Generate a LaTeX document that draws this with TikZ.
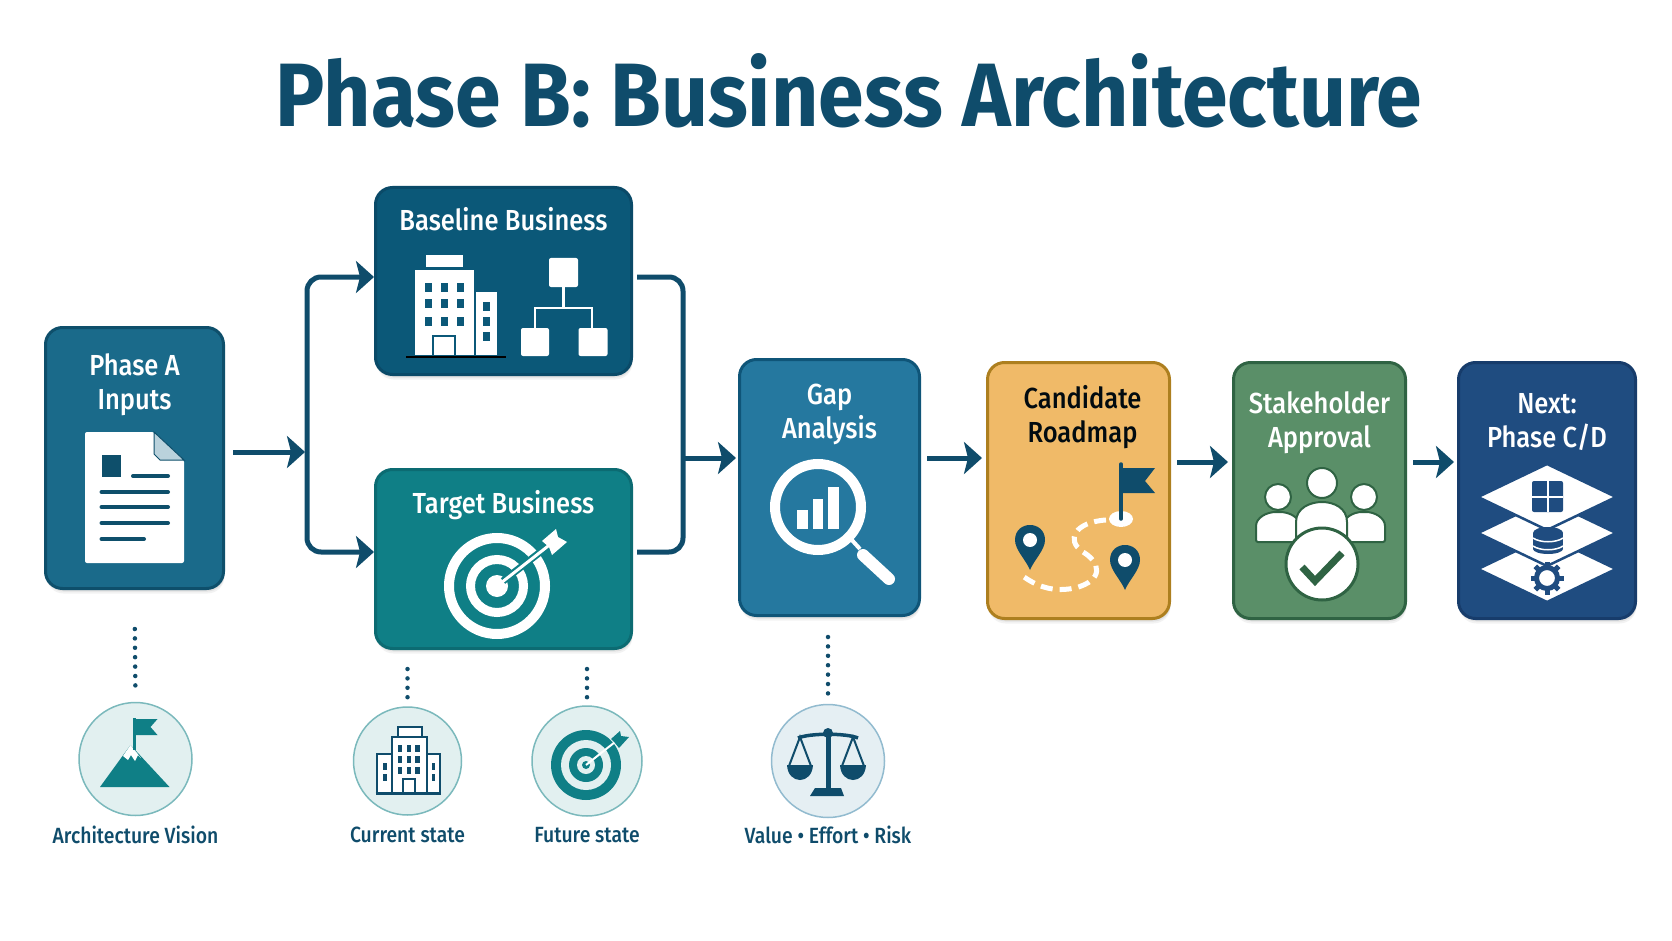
\documentclass[tikz,border=0pt]{standalone}
\usepackage{fontspec}
\setmainfont{Fira Sans}[FakeStretch=0.915]
\newfontfamily\boxfont{Fira Sans Medium}[FakeStretch=0.88]
\usetikzlibrary{arrows.meta,calc,positioning,shadows}
\definecolor{inkblue}{HTML}{0F4C6B}
\definecolor{phaseblue}{HTML}{1A6A8A}
\definecolor{phaseline}{HTML}{0E4F6B}
\definecolor{baseblue}{HTML}{0B5878}
\definecolor{baseline}{HTML}{0A4A68}
\definecolor{teal}{HTML}{0F7F86}
\definecolor{tealline}{HTML}{0C6B72}
\definecolor{gapblue}{HTML}{25789F}
\definecolor{gapline}{HTML}{0F5578}
\definecolor{amber}{HTML}{F0BA68}
\definecolor{amberline}{HTML}{AD7F1F}
\definecolor{moss}{HTML}{5A8F68}
\definecolor{mossline}{HTML}{2F6343}
\definecolor{nextblue}{HTML}{1F4C80}
\definecolor{nextline}{HTML}{173C6B}
\tikzstyle{stepbox}=[draw, line width=3pt, rounded corners=17pt, inner sep=0pt,
  drop shadow={shadow xshift=1pt, shadow yshift=-5pt, opacity=.10},
  drop shadow={shadow xshift=1pt, shadow yshift=-3pt, opacity=.15}]
\tikzstyle{phasebox}=[stepbox, fill=phaseblue, draw=phaseline, minimum width=178pt, minimum height=261pt]
\tikzstyle{basebox}=[stepbox, fill=baseblue, draw=baseline, minimum width=256pt, minimum height=187pt]
\tikzstyle{targetbox}=[stepbox, fill=teal, draw=tealline, minimum width=256pt, minimum height=179pt]
\tikzstyle{gapbox}=[stepbox, fill=gapblue, draw=gapline, minimum width=180pt, minimum height=256pt]
\tikzstyle{roadbox}=[stepbox, fill=amber, draw=amberline, minimum width=182pt, minimum height=256pt]
\tikzstyle{approvebox}=[stepbox, fill=moss, draw=mossline, minimum width=172pt, minimum height=256pt]
\tikzstyle{nextbox}=[stepbox, fill=nextblue, draw=nextline, minimum width=177pt, minimum height=256pt]
\tikzstyle{boxtext}=[text=white, font=\fontsize{29}{34}\selectfont\boxfont, align=center, inner sep=0pt]
\tikzstyle{badge}=[draw=teal!55, fill=teal!12, line width=1.5pt, circle, inner sep=0pt]
\tikzstyle{badgetext}=[text=inkblue, font=\fontsize{22}{26}\selectfont\boxfont, inner sep=0pt]
\tikzstyle{flow}=[draw=inkblue, line width=5pt, -{Stealth[length=18pt,width=32pt,inset=4pt]}]
\tikzstyle{bus}=[draw=inkblue, line width=5pt, rounded corners=14pt]
\tikzstyle{dotline}=[draw=inkblue, line width=4.5pt, line cap=round, dash pattern=on 0pt off 9.4pt]
\begin{document}
\begin{tikzpicture}[x=1pt, y=-1pt, node distance=100pt]
    \useasboundingbox (0,0) rectangle (1672,941);
    \node (title) at (849,91) [text=inkblue, inner sep=0pt, font=\fontsize{90}{90}\selectfont\bfseries] {Phase B: Business Architecture};
    %
    \node (phasea) [phasebox] at (134.5,458) {};
    \node (base) [basebox, right of=phasea, node distance=369pt, yshift=177pt] {};
    \node (target) [targetbox, below of=base, node distance=278pt] {};
    \node (gap) [gapbox, right of=base, node distance=326pt, yshift=-206.5pt] {};
    \node (road) [roadbox, right of=gap, node distance=249pt, yshift=-3pt] {};
    \node (approve) [approvebox, right of=road, node distance=241pt] {};
    \node (next) [nextbox, right of=approve, node distance=227.5pt] {};
    %
    \node (phaseatext) [boxtext, above of=phasea, node distance=73pt] {Phase A\\Inputs};
    \node (basetext) [boxtext, above of=base, node distance=62pt] {Baseline Business};
    \node (targettext) [boxtext, above of=target, node distance=54pt] {Target Business};
    \node (gaptext) [boxtext, above of=gap, node distance=73pt] {Gap\\Analysis};
    \node (roadtext) [boxtext, above of=road, node distance=73pt, xshift=4pt, text=black!85!inkblue] {Candidate\\Roadmap};
    \node (approvetext) [boxtext, above of=approve, node distance=68pt] {Stakeholder\\Approval};
    \node (nexttext) [boxtext, above of=next, node distance=68pt] {Next:\\Phase C/D};
    %
    \node (visionc) [badge, minimum size=113pt] at (135.5,759) {};
    \node (currentc) [badge, minimum size=108pt] at (407.5,761) {};
    \node (futurec) [badge, minimum size=110pt] at (587,761) {};
    \node (valuec) [badge, minimum size=113pt, draw=gapblue!50, fill=gapblue!12] at (828,761) {};
    \node (visiontext) [badgetext, below of=visionc, node distance=76pt] {Architecture Vision};
    \node (currenttext) [badgetext, below of=currentc, node distance=74pt] {Current state};
    \node (futuretext) [badgetext, below of=futurec, node distance=74pt] {Future state};
    \node (valuetext) [badgetext, below of=valuec, node distance=74pt] {Value • Effort • Risk};
    %
    \coordinate (busin) at (307,452);
    \coordinate (bustop) at (307,277);
    \coordinate (busbot) at (307,552);
    \coordinate (busout) at (683,458);
    \draw [flow] ([xshift=8pt]phasea.east |- busin) -- ([xshift=-2pt]busin);
    \draw [flow, rounded corners=14pt] (busin) |- (base.west |- bustop);
    \draw [flow, rounded corners=14pt] (busin) |- (target.west |- busbot);
    \draw [bus] ([xshift=4pt]base.east |- bustop) -| (busout) |- ([xshift=4pt]target.east |- busbot);
    \draw [flow] (busout) -- ([xshift=-2pt]gap.west |- busout);
    \draw [flow] ([xshift=6pt]gap.east |- busout) -- ([xshift=-4pt]road.west |- busout);
    \coordinate (rowmid) at (1200,462);
    \draw [flow] ([xshift=6pt]road.east |- rowmid) -- ([xshift=-4pt]approve.west |- rowmid);
    \draw [flow] ([xshift=6pt]approve.east |- rowmid) -- ([xshift=-3pt]next.west |- rowmid);
    \draw [dotline, shorten <=39pt, shorten >=8pt] (phasea.south) -- (visionc.north);
    \draw [dotline, shorten <=19pt, shorten >=8pt] (currentc.north |- target.south) -- (currentc.north);
    \draw [dotline, shorten <=19pt, shorten >=8pt] (futurec.north |- target.south) -- (futurec.north);
    \draw [dotline, shorten <=20pt, shorten >=8pt] (gap.south -| valuec.north) -- (valuec.north);
    % document
    \fill [white, rounded corners=2pt] (85,432) -- (154,432) -- (184,460) -- (184,563) -- (85,563) -- cycle;
    \fill [phaseblue!30!white, draw=phaseline, line width=1pt] (154,432) -- (184,460) -- (160,460) -- (154,454) -- cycle;
    \fill [phaseline] (101.5,455) rectangle (121,477);
    \foreach \yy/\xa/\xb in {476/133/168,492/101.5/168,507/101.5/168,523/101.5/168,539/101.5/144}
      \draw [phaseline, line width=4pt, line cap=round] (\xa,\yy) -- (\xb,\yy);
    % tall building and org chart
    \fill [white] (425.5,255) rectangle (463,267);
    \fill [white] (415,270) rectangle (474,355);
    \fill [white] (476,292) rectangle (497,355);
    \draw [baseline, line width=1.5pt] (406,357) -- (506,357);
    \foreach \xx in {428.5,444,460}
      \foreach \yy in {287,303,321}
        \fill [baseblue] (\xx-3.5,\yy-4.5) rectangle (\xx+3.5,\yy+4.5);
    \foreach \yy in {306,321,336}
      \fill [baseblue] (482.5,\yy-4.5) rectangle (489.5,\yy+4.5);
    \draw [baseblue, line width=2pt] (433,355) -- (433,336) -- (455,336) -- (455,355);
    \fill [white, rounded corners=2pt] (549,258) rectangle (578,287);
    \fill [white, rounded corners=2pt] (521,328) rectangle (549,356);
    \fill [white, rounded corners=2pt] (578.5,328) rectangle (607.5,356);
    \draw [white, line width=2.5pt] (563.5,287) -- (563.5,308) (535,328) -- (535,308) -- (592,308) -- (592,328);
    % big target
    \draw [white, line width=10pt] (497,586) circle (48);
    \draw [white, line width=9pt] (497,586) circle (26.5);
    \fill [white] (497,586) circle (11);
    \draw [teal, line width=7pt] (503,581) -- (548,546);
    \draw [white, line width=3pt] (497,586) -- (552,543);
    \fill [white] (542,541) -- (556,529) -- (558,537) -- (567,542) -- (552,555) -- (549,547) -- cycle;
    % magnifier
    \draw [white, line width=10pt] (818,507) circle (43);
    \fill [white] (797,510) rectangle (808,529);
    \fill [white] (813,499) rectangle (823,529);
    \fill [white] (828,487) rectangle (839,529);
    \draw [white, line width=4pt] (850,538) -- (860,549);
    \draw [white, line width=12pt, line cap=round] (863,555) -- (889,579);
    % roadmap
    \fill [white] (1121,519) ellipse (12 and 8);
    \draw [white, line width=5pt, dash pattern=on 12pt off 7pt] (1106,520) .. controls (1075,522) and (1065,540) .. (1083,552) .. controls (1100,562) and (1105,580) .. (1075,588) .. controls (1055,592) and (1040,588) .. (1024,577);
    \draw [inkblue, line width=3.5pt, line cap=round] (1121,464) -- (1121,519);
    \fill [inkblue] (1119,468) -- (1155,468) -- (1145,481) -- (1155,493) -- (1119,493) -- cycle;
    \foreach \xx/\yy in {1030/540,1125/560} {
      \fill [inkblue] (\xx-15,\yy) .. controls (\xx-15,\yy-20) and (\xx+15,\yy-20) .. (\xx+15,\yy) .. controls (\xx+15,\yy+10) and (\xx+4,\yy+20) .. (\xx,\yy+30) .. controls (\xx-4,\yy+20) and (\xx-15,\yy+10) .. (\xx-15,\yy) -- cycle;
      \fill [white] (\xx,\yy) circle (7);
    }
    % people and check
    \foreach \xx/\xa/\xb in {1278/1256/1300,1364/1343/1385} {
      \filldraw [white, draw=mossline, line width=2pt] (\xx,497) circle (13);
      \filldraw [white, draw=mossline, line width=2pt, rounded corners=2pt] (\xa,542) -- (\xa,528) .. controls (\xa,518) and (\xa+10,512) .. (\xx,512) .. controls (\xb-10,512) and (\xb,518) .. (\xb,528) -- (\xb,542) -- cycle;
    }
    \filldraw [white, draw=mossline, line width=2pt] (1322,483) circle (15);
    \filldraw [white, draw=mossline, line width=2pt] (1296,545) -- (1296,522) .. controls (1296,508) and (1310,502) .. (1322,502) .. controls (1334,502) and (1347,508) .. (1347,522) -- (1347,545) -- cycle;
    \filldraw [white, draw=mossline, line width=3pt] (1322,564) circle (36);
    \draw [mossline, line width=7pt] (1302,567) -- (1315,581) -- (1342,553);
    % layers
    \foreach \yy in {569,533,497}
      \filldraw [white, draw=nextblue, line width=2.5pt, line join=round] (1478,\yy) -- (1547,\yy-33) -- (1616,\yy) -- (1547,\yy+33) -- cycle;
    \fill [nextblue, rounded corners=2pt] (1532,481) rectangle (1563,512);
    \draw [white, line width=1.5pt] (1548,481) -- (1548,512) (1532,497) -- (1563,497);
    \fill [nextblue] (1533,533) rectangle (1563,549);
    \fill [nextblue] (1548,533) ellipse (15 and 6);
    \fill [nextblue] (1548,549) ellipse (15 and 5);
    \draw [white, line width=1.5pt] (1533,538) .. controls (1540,543) and (1556,543) .. (1563,538);
    \draw [white, line width=1.5pt] (1533,546) .. controls (1540,551) and (1556,551) .. (1563,546);
    \draw [nextblue, line width=5pt] (1547,578) circle (10.5);
    \foreach \a in {0,45,...,315}
      \draw [nextblue, line width=5pt] (1547,578) ++(\a:11) -- ++(\a:5.5);
    % mountain
    \fill [teal] (100,787) -- (130.5,745) -- (169.5,787) -- cycle;
    \fill [white] (130.5,745) -- (123,756) -- (128,760) -- (131,755) -- (135,761) -- (138,755) -- (141,758) -- cycle;
    \draw [teal, line width=2.5pt] (134.5,718) -- (134.5,750);
    \fill [teal] (134.5,719) -- (157.5,719) -- (150.5,727) -- (157.5,735) -- (136,735) -- cycle;
    % small building
    \draw [inkblue, line width=2pt, fill=white] (397.5,737) -- (397.5,727) -- (421.5,727) -- (421.5,737);
    \draw [inkblue, line width=2pt, fill=white] (377,793) -- (377,754) -- (392,754) -- (392,793);
    \draw [inkblue, line width=2pt, fill=white] (427,793) -- (427,754) -- (440,754) -- (440,793);
    \draw [inkblue, line width=2pt, fill=white] (392,793) -- (392,737) -- (427,737) -- (427,793);
    \draw [inkblue, line width=3pt] (375.5,793) -- (441,793);
    \foreach \xx in {400,409,417.5}
      \foreach \yy in {748,759,770}
        \fill [inkblue] (\xx-2.2,\yy-3.5) rectangle (\xx+2.2,\yy+3.5);
    \foreach \xx in {385,433.5}
      \foreach \yy in {766,777}
        \fill [inkblue] (\xx-1.8,\yy-3.5) rectangle (\xx+1.8,\yy+3.5);
    \draw [inkblue, line width=2pt] (403,793) -- (403,779) -- (415,779) -- (415,793);
    % small target
    \fill [teal] (586,765) circle (35);
    \fill [teal!12] (586,765) circle (25);
    \fill [teal] (586,765) circle (17);
    \fill [teal!12] (586,765) circle (9);
    \fill [teal] (586,765) circle (4);
    \draw [white, line width=2pt] (586,765) -- (615,742);
    \fill [teal] (611,739) -- (620,731) -- (621,736) -- (629,737) -- (619,748) -- (615,743) -- cycle;
    % scales
    \draw [inkblue, line width=5pt] (828,732) -- (828,790);
    \fill [inkblue] (828,733) circle (5);
    \fill [inkblue] (815,788) -- (841,788) -- (844,796) -- (810,796) -- cycle;
    \draw [inkblue, line width=3.5pt] (798,738) .. controls (810,733) and (846,733) .. (858,738);
    \foreach \xx in {800,853} {
      \draw [inkblue, line width=2pt] (\xx-11,766) -- (\xx,737) -- (\xx+11,766);
      \fill [inkblue] (\xx-13,765) -- (\xx+13,765) .. controls (\xx+12,785) and (\xx-12,785) .. (\xx-13,765) -- cycle;
    }
\end{tikzpicture}
\end{document}
